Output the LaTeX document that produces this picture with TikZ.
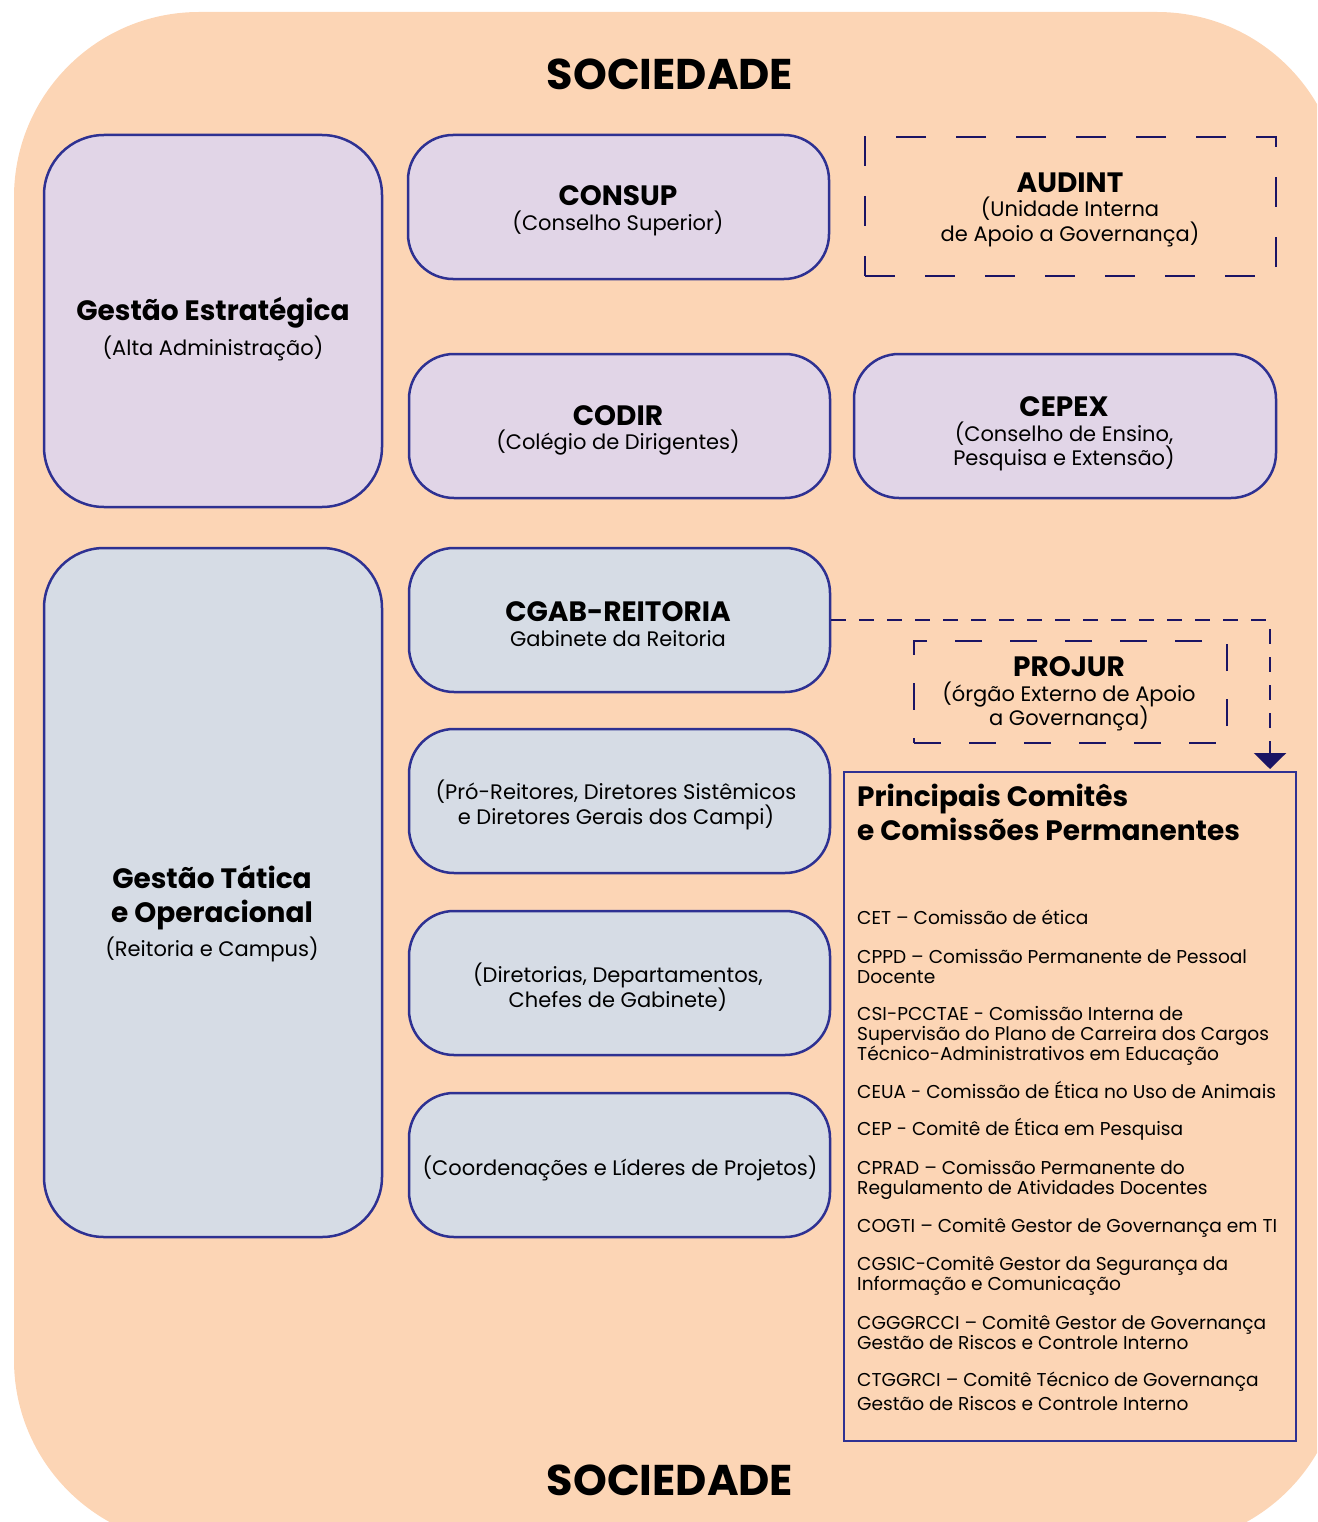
\documentclass[tikz,border=0pt]{standalone}
\usepackage{fontspec}
\setmainfont{Poppins}
\usetikzlibrary{arrows.meta}
\definecolor{peach}{HTML}{FCD5B5}
\definecolor{lavender}{HTML}{E1D5E7}
\definecolor{steel}{HTML}{D6DCE5}
\definecolor{edge}{HTML}{2E3192}
\definecolor{navy}{HTML}{1B1464}
\newcommand\boxttl{\fontsize{28}{24.5}\selectfont\bfseries}
\newcommand\sidettl{\fontsize{28}{33}\selectfont\bfseries}
\newcommand\tightlines{\lineskiplimit=-50pt\relax}
\tikzset{
  govbox/.style={draw=edge, line width=2.5pt, rounded corners=45pt, inner sep=0pt},
  stratbox/.style={govbox, fill=lavender},
  tacbox/.style={govbox, fill=steel},
  sidebox/.style={govbox, rounded corners=60pt, minimum width=338pt},
  dashbox/.style={draw=navy, line width=2.5pt, dash pattern=on 30pt off 30pt, inner sep=0pt},
  boxtext/.style={align=center, inner sep=0pt, font=\fontsize{21}{24.5}\selectfont\tightlines},
  bigtext/.style={inner sep=0pt, font=\fontsize{43}{50}\selectfont\bfseries},
  item/.style={anchor=west, align=left, inner sep=0pt,
    font=\fontsize{18.6}{20}\selectfont\tightlines},
}
\begin{document}
\begin{tikzpicture}[x=1pt, y=-1pt]
\useasboundingbox (0,0) rectangle (1317,1522);
\begin{scope}
  \clip (0,0) rectangle (1317,1522);
  \fill[peach, rounded corners=185pt] (14,12) rectangle (1342,1545);
\end{scope}

% society labels
\node[bigtext] (soc-top) at (670,74) {SOCIEDADE};
\node[bigtext] (soc-bot) at (670,1480) {SOCIEDADE};

% left column
\node[sidebox, fill=lavender, minimum height=372pt] (strat) at (213,321) {};
\node[boxtext, font=\fontsize{21}{35}\selectfont\tightlines] (strat-t) at (213,329) {{\sidettl Gestão Estratégica}\\(Alta Administração)};
\node[sidebox, fill=steel, minimum height=689pt] (tac) at (213,892.5) {};
\node[boxtext, font=\fontsize{21}{34}\selectfont\tightlines] (tac-t) at (212,913.5) {{\sidettl Gestão Tática}\\{\sidettl e Operacional}\\(Reitoria e Campus)};

% strategic bodies
\node[stratbox, minimum width=421pt, minimum height=144pt] (consup) at (618.5,207) {};
\node[boxtext] (consup-t) at (618,211) {{\boxttl CONSUP}\\(Conselho Superior)};
\node[dashbox, minimum width=411pt, minimum height=139pt] (audint) at (1070.5,206.5) {};
\node[boxtext] (audint-t) at (1070,209.5) {{\boxttl AUDINT}\\(Unidade Interna\\de Apoio a Governança)};
\node[stratbox, minimum width=421pt, minimum height=144pt] (codir) at (619.5,426) {};
\node[boxtext] (codir-t) at (618,430.5) {{\boxttl CODIR}\\(Colégio de Dirigentes)};
\node[stratbox, minimum width=422pt, minimum height=144pt] (cepex) at (1065,426) {};
\node[boxtext] (cepex-t) at (1064,434) {{\boxttl CEPEX}\\(Conselho de Ensino,\\Pesquisa e Extensão)};

% tactical and operational bodies
\node[tacbox, minimum width=421pt, minimum height=144pt] (cgab) at (619.5,620) {};
\node[boxtext] (cgab-t) at (618,624) {{\boxttl CGAB-REITORIA}\\Gabinete da Reitoria};
\node[tacbox, minimum width=421pt, minimum height=144pt] (prore) at (619.5,801) {};
\node[boxtext, font=\fontsize{21}{25}\selectfont\tightlines] (prore-t) at (616,805) {(Pró-Reitores, Diretores Sistêmicos\\e Diretores Gerais dos Campi)};
\node[tacbox, minimum width=421pt, minimum height=144pt] (dirs) at (619.5,983) {};
\node[boxtext, font=\fontsize{21}{25}\selectfont\tightlines] (dirs-t) at (618,987) {(Diretorias, Departamentos,\\Chefes de Gabinete)};
\node[tacbox, minimum width=421pt, minimum height=144pt] (coord) at (619.5,1165) {};
\node[boxtext] (coord-t) at (620,1168) {(Coordenações e Líderes de Projetos)};

% external legal body
\node[dashbox, dash pattern=on 27pt off 28pt, minimum width=313pt, minimum height=102pt] (projur) at (1070.5,692) {};
\node[boxtext] (projur-t) at (1069,694) {{\boxttl PROJUR}\\(órgão Externo de Apoio\\a Governança)};

% committees
\node[draw=edge, line width=2pt, minimum width=452pt, minimum height=669pt, inner sep=0pt] (comm) at (1070,1106.5) {};
\node[anchor=west, align=left, inner sep=0pt, font=\fontsize{28}{34}\selectfont\bfseries] (comm-t) at (857,812) {Principais Comitês\\e Comissões Permanentes};
\node[item] (i1) at (857,917) {CET – Comissão de ética};
\node[item] (i2) at (857,966.5) {CPPD – Comissão Permanente de Pessoal\\Docente};
\node[item] (i3) at (857,1036) {CSI-PCCTAE - Comissão Interna de\\Supervisão do Plano de Carreira dos Cargos\\Técnico-Administrativos em Educação};
\node[item] (i4) at (857,1090) {CEUA - Comissão de Ética no Uso de Animais};
\node[item] (i5) at (857,1129) {CEP - Comitê de Ética em Pesquisa};
\node[item] (i6) at (857,1180) {CPRAD – Comissão Permanente do\\Regulamento de Atividades Docentes};
\node[item] (i7) at (857,1228) {COGTI – Comitê Gestor de Governança em TI};
\node[item] (i8) at (857,1276) {CGSIC-Comitê Gestor da Segurança da\\Informação e Comunicação};
\node[item] (i9) at (857,1332) {CGGGRCCI – Comitê Gestor de Governança\\Gestão de Riscos e Controle Interno};
\node[item, font=\fontsize{18.6}{24}\selectfont] (i10) at (857,1391) {CTGGRCI – Comitê Técnico de Governança\\Gestão de Riscos e Controle Interno};

% link from the cabinet to the committees
\coordinate (tip) at (1270,769);
\draw[navy, line width=2.5pt, dash pattern=on 15pt off 13pt, -{Triangle[width=32pt,length=16pt]}] (cgab.east) -| (tip);
\end{tikzpicture}
\end{document}
